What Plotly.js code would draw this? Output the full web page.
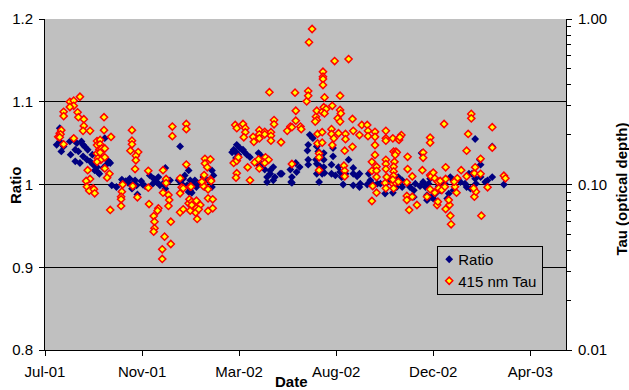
<!DOCTYPE html>
<html>
<head>
<meta charset="utf-8">
<script src="https://cdn.plot.ly/plotly-3.0.1.min.js"></script>
<style>
  html, body { margin: 0; padding: 0; background: #fff; }
  #chart { width: 629px; height: 390px; }
</style>
</head>
<body>
<div id="chart"></div>
<script>
// Observation dates are stored as days since 1 July 2001.
const ratioDay = [
  36,40,40,45,42,53,57,62,68,70,60,64,54,70,75,79,83,88,60,66,98,96,103,100,105,72,76,82,92,107,113,89,85,96,91,
  120,121,130,137,139,133,134,140,156,161,165,169,167,173,176,160,175,176,182,128,145,150,125,147,
  193,199,206,208,214,219,216,236,238,231,236,204,210,197,208,223,227,195,206,210,225,201,
  268,266,270,276,281,285,267,296,300,294,300,304,307,311,315,324,317,307,315,272,262,264,277,311,326,
  337,339,339,344,349,345,360,359,360,360,362,366,371,373,370,371,375,378,371,374,380,380,380,381,392,392,390,390,395,
  399,401,403,408,405,412,418,418,418,423,426,427,426,436,438,440,442,444,449,453,459,460,461,466,469,470,476,472,338,
  474,481,481,491,496,496,498,504,506,508,511,513,513,515,517,519,521,524,528,530,536,539,
  541,543,547,547,556,562,564,569,567,571,575,575,576,582,581,582,588,591,597,597,612,476
];
const ratioVal = [
  1.048,1.068,1.052,1.046,1.040,1.052,1.055,1.050,1.052,1.048,1.042,1.040,1.036,1.034,1.030,1.028,1.024,1.021,1.028,1.026,1.056,1.042,1.028,1.024,1.026,1.046,1.042,1.036,1.032,0.999,0.997,1.015,1.017,1.020,1.013,
  1.006,1.002,1.007,1.005,0.999,0.995,1.001,0.988,1.011,1.007,1.003,0.999,1.009,1.001,0.995,1.001,0.999,1.020,1.005,1.002,1.004,0.998,1.004,1.000,
  1.005,1.007,1.017,1.005,1.005,1.001,0.997,1.017,1.011,1.005,0.997,0.999,1.001,1.001,0.993,1.003,0.997,1.046,0.991,0.990,1.009,1.011,
  1.048,1.040,1.036,1.042,1.036,1.033,1.032,1.038,1.034,1.026,1.024,1.018,1.009,1.017,1.021,1.013,1.009,1.003,1.005,1.044,1.039,1.042,1.040,1.013,1.013,
  1.018,1.009,1.002,1.026,1.021,1.015,1.048,1.041,1.030,1.024,1.060,1.056,1.046,1.040,1.030,1.025,1.022,1.013,1.013,1.003,1.038,1.030,1.021,1.014,1.044,1.034,1.024,1.013,1.011,
  1.021,1.015,1.009,1.013,1.000,1.030,1.020,1.013,0.999,1.010,0.997,1.001,1.013,1.000,1.013,1.005,1.001,0.999,1.001,1.001,0.989,1.001,1.003,1.006,0.990,1.005,1.006,0.999,1.003,
  0.997,1.005,0.997,0.997,0.993,0.985,1.001,0.998,1.038,1.003,0.997,0.987,0.981,1.001,1.007,0.985,0.983,0.989,0.998,0.993,1.001,0.983,
  0.989,1.009,1.005,0.993,1.003,1.001,0.997,0.995,1.013,1.013,1.055,1.007,1.001,1.024,1.030,1.009,1.003,1.005,1.046,1.009,1.000,1.009
];

const tauDay = [
  38,40,42,41,40,45,45,45,53,58,58,53,66,63,64,58,71,71,70,79,88,92,88,92,
  91,94,98,88,92,89,93,98,88,97,97,106,98,104,101,76,79,74,75,83,78,84,85,105,
  121,120,119,119,119,134,140,133,133,133,131,141,138,138,137,154,154,155,161,
  162,162,161,167,166,172,172,175,173,177,177,173,180,181,180,183,183,185,185,
  195,197,195,199,208,195,199,203,203,203,206,207,208,210,210,216,216,215,221,
  219,217,209,224,227,225,223,226,234,231,235,227,234,227,230,231,237,231,237,
  264,268,270,268,267,266,268,276,279,279,277,282,285,289,290,291,296,
  297,297,297,297,304,304,305,309,304,310,312,312,312,316,316,325,
  333,337,339,343,344,344,350,351,339,358,360,360,361,365,370,371,371,369,372,372,374,374,374,378,
  378,379,379,379,379,378,380,381,383,381,390,390,393,391,391,394,398,399,401,401,402,401,406,407,
  407,407,408,408,412,417,417,418,426,429,436,437,437,442,442,442,443,446,446,446,446,448,448,448,
  448,460,460,460,460,460,460,461,459,460,469,470,473,471,470,470,470,470,469,470,476,474,472,469,
  477,480,478,472,476,487,488,488,487,487,490,494,494,500,507,508,
  508,513,517,517,517,517,518,521,523,523,526,527,527,528,530,532,
  535,537,537,536,537,542,541,543,544,549,551,552,548,557,564,564,
  566,570,570,574,574,575,576,573,582,582,583,591,597,597,612,614
];
const tauVal = [
  0.194,0.204,0.213,0.201,0.193,0.175,0.275,0.259,0.316,0.321,0.299,0.294,0.339,0.273,0.255,0.190,0.248,0.226,0.211,0.211,0.183,0.186,0.173,0.175,
  0.163,0.165,0.165,0.154,0.156,0.144,0.141,0.146,0.137,0.255,0.213,0.194,0.125,0.116,0.110,0.122,0.108,0.105,0.0970,0.0948,0.0917,0.0935,0.0885,0.0702,
  0.100,0.0905,0.0844,0.0814,0.0742,0.0979,0.0837,0.213,0.184,0.175,0.160,0.157,0.149,0.140,0.124,0.121,0.0956,0.0762,0.0645,
  0.0596,0.0544,0.0519,0.0718,0.0695,0.0406,0.0355,0.0484,0.122,0.108,0.102,0.0892,0.0864,0.0806,0.0742,0.0596,0.0437,0.224,0.196,
  0.109,0.0962,0.0885,0.0948,0.0970,0.0679,0.0708,0.232,0.216,0.132,0.0770,0.0814,0.0695,0.0787,0.0752,0.0798,0.0718,0.0676,0.0752,
  0.0708,0.0619,0.0970,0.103,0.0970,0.0979,0.104,0.114,0.107,0.0935,0.105,0.143,0.142,0.134,0.127,0.0825,0.0814,0.0692,0.0718,
  0.135,0.139,0.146,0.117,0.110,0.229,0.219,0.232,0.219,0.207,0.193,0.127,0.106,0.194,0.181,0.136,0.142,
  0.125,0.213,0.201,0.190,0.208,0.201,0.146,0.141,0.135,0.361,0.207,0.197,0.184,0.245,0.231,0.180,
  0.211,0.224,0.222,0.359,0.279,0.243,0.224,0.216,0.133,0.318,0.367,0.344,0.723,0.870,0.257,0.279,0.245,0.240,0.202,0.177,0.154,0.146,0.122,0.207,
  0.179,0.480,0.448,0.434,0.399,0.275,0.293,0.336,0.286,0.269,0.216,0.202,0.190,0.173,0.299,0.557,0.251,0.204,0.344,0.282,0.269,0.240,0.130,0.121,
  0.112,0.160,0.202,0.188,0.573,0.249,0.169,0.211,0.199,0.229,0.229,0.211,0.196,0.137,0.121,0.0795,0.0979,0.208,0.194,0.173,0.151,0.128,0.121,0.111,
  0.0892,0.211,0.190,0.184,0.141,0.133,0.124,0.111,0.102,0.0948,0.190,0.158,0.158,0.137,0.128,0.120,0.113,0.102,0.101,0.0948,0.188,0.156,0.103,0.107,
  0.186,0.199,0.193,0.151,0.104,0.103,0.147,0.124,0.0852,0.0806,0.0702,0.112,0.0844,0.0752,0.122,0.156,
  0.145,0.0844,0.192,0.179,0.114,0.0935,0.112,0.118,0.109,0.0892,0.0752,0.0787,0.104,0.0948,0.105,0.0926,
  0.232,0.127,0.108,0.0970,0.0711,0.0752,0.0806,0.0648,0.0575,0.0970,0.0892,0.109,0.104,0.122,0.160,0.112,
  0.202,0.267,0.251,0.117,0.0844,0.127,0.0905,0.0948,0.143,0.116,0.0648,0.0962,0.222,0.167,0.113,0.109
];

// Axis ticks
const xTickDay = [21, 146, 271, 396, 521, 646];
const xTickText = ['Jul-01', 'Nov-01', 'Mar-02', 'Aug-02', 'Dec-02', 'Apr-03'];
const xRangeDay = [21, 692];
const ratioTicks = [0.8, 0.9, 1.0, 1.1, 1.2];
const ratioTickText = ['0.8', '0.9', '1', '1.1', '1.2'];
const tauTicks = [0.01, 0.1, 1];
const tauTickText = ['0.01', '0.10', '1.00'];
const tauMinorTicks = [0.02,0.03,0.04,0.05,0.06,0.07,0.08,0.09,0.2,0.3,0.4,0.5,0.6,0.7,0.8,0.9];

const DAY_MS = 86400000;
const ORIGIN = Date.UTC(2001, 6, 1);
function toDate(d) {
  return new Date(ORIGIN + Math.round(d) * DAY_MS).toISOString().slice(0, 10);
}

const FONT = '"Liberation Sans", Arial, Helvetica, sans-serif';

const ratioTrace = {
  type: 'scatter', mode: 'markers', name: 'Ratio',
  x: ratioDay.map(toDate), y: ratioVal,
  marker: { symbol: 'diamond', size: 6, color: '#000080', line: { width: 0 } },
  xaxis: 'x', yaxis: 'y', hoverinfo: 'skip'
};
const tauTrace = {
  type: 'scatter', mode: 'markers', name: '415 nm Tau',
  x: tauDay.map(toDate), y: tauVal,
  marker: { symbol: 'diamond', size: 5.5, color: '#FFFF00', line: { width: 1.5, color: '#FF0000' } },
  xaxis: 'x', yaxis: 'y2', hoverinfo: 'skip'
};

const layout = {
  width: 629, height: 390,
  margin: { l: 45, r: 63.3, t: 19, b: 40, pad: 0 },
  paper_bgcolor: '#ffffff',
  plot_bgcolor: '#C0C0C0',
  font: { family: FONT, size: 15, color: '#000' },
  showlegend: true,
  xaxis: {
    type: 'date',
    range: xRangeDay.map(toDate),
    tickmode: 'array', tickvals: xTickDay.map(toDate), ticktext: xTickText,
    ticks: 'outside', ticklen: 5, tickwidth: 1, tickcolor: '#000',
    ticklabelstandoff: 3,
    showline: true, linecolor: '#000', linewidth: 1,
    showgrid: false, zeroline: false,
    tickfont: { family: FONT, size: 15, color: '#000' }
  },
  yaxis: {
    range: [0.8, 1.2],
    tickmode: 'array', tickvals: ratioTicks, ticktext: ratioTickText,
    ticks: 'outside', ticklen: 5, tickwidth: 1, tickcolor: '#000',
    ticklabelstandoff: 3,
    showline: true, linecolor: '#000', linewidth: 1,
    showgrid: true, gridcolor: '#000', gridwidth: 1, zeroline: false,
    tickfont: { family: FONT, size: 15, color: '#000' }
  },
  yaxis2: {
    type: 'log', overlaying: 'y', side: 'right',
    range: [-2, 0],
    tickmode: 'array', tickvals: tauTicks, ticktext: tauTickText,
    ticks: 'outside', ticklen: 5, tickwidth: 1, tickcolor: '#000',
    ticklabelstandoff: 3,
    minor: { tickmode: 'array', tickvals: tauMinorTicks, ticks: 'outside', ticklen: 4, tickwidth: 1, tickcolor: '#000', showgrid: false },
    showline: true, linecolor: '#000', linewidth: 1,
    showgrid: false, zeroline: false,
    tickfont: { family: FONT, size: 15, color: '#000' }
  },
  legend: {
    x: 0.7528, y: 0.3142, xanchor: 'left', yanchor: 'top',
    bgcolor: '#C0C0C0', bordercolor: '#000', borderwidth: 1,
    font: { family: FONT, size: 15, color: '#000' },
    itemwidth: 30, tracegroupgap: 0
  },
  annotations: [
    { text: '<b>Ratio</b>', xref: 'paper', yref: 'paper', x: -0.0557, y: 0.4985,
      xanchor: 'center', yanchor: 'middle', textangle: -90, showarrow: false,
      font: { family: FONT, size: 15, color: '#000' } },
    { text: '<b>Date</b>', xref: 'paper', yref: 'paper', x: 0.4734, y: -0.094,
      xanchor: 'center', yanchor: 'middle', showarrow: false,
      font: { family: FONT, size: 15, color: '#000' } },
    { text: '<b>Tau (optical depth)</b>', xref: 'paper', yref: 'paper', x: 1.1065, y: 0.486,
      xanchor: 'center', yanchor: 'middle', textangle: -90, showarrow: false,
      font: { family: FONT, size: 15, color: '#000' } }
  ]
};

// Compact legend: symbol close to the label, box sized to its content.
function tightenLegend(gd) {
  const leg = gd.querySelector('.legend');
  if (!leg) return;
  const lift = [4, 5];
  leg.querySelectorAll('g.traces').forEach((g, i) => {
    const m = /translate\(([-\d.]+)[ ,]+([-\d.]+)\)/.exec(g.getAttribute('transform') || '');
    if (m) g.setAttribute('transform', `translate(${m[1]},${parseFloat(m[2]) - (lift[i] || 0)})`);
    const t = g.querySelector('.legendtext');
    if (t) t.setAttribute('x', 20);
    g.querySelectorAll('.legendpoints path.scatterpts').forEach(p => p.setAttribute('transform', 'translate(11,0)'));
  });
  const bg = leg.querySelector('rect.bg');
  if (bg) { bg.setAttribute('width', 105); bg.setAttribute('height', 48); }
}

Plotly.newPlot('chart', [ratioTrace, tauTrace], layout, { displayModeBar: false, staticPlot: true })
  .then(tightenLegend);
</script>
</body>
</html>
